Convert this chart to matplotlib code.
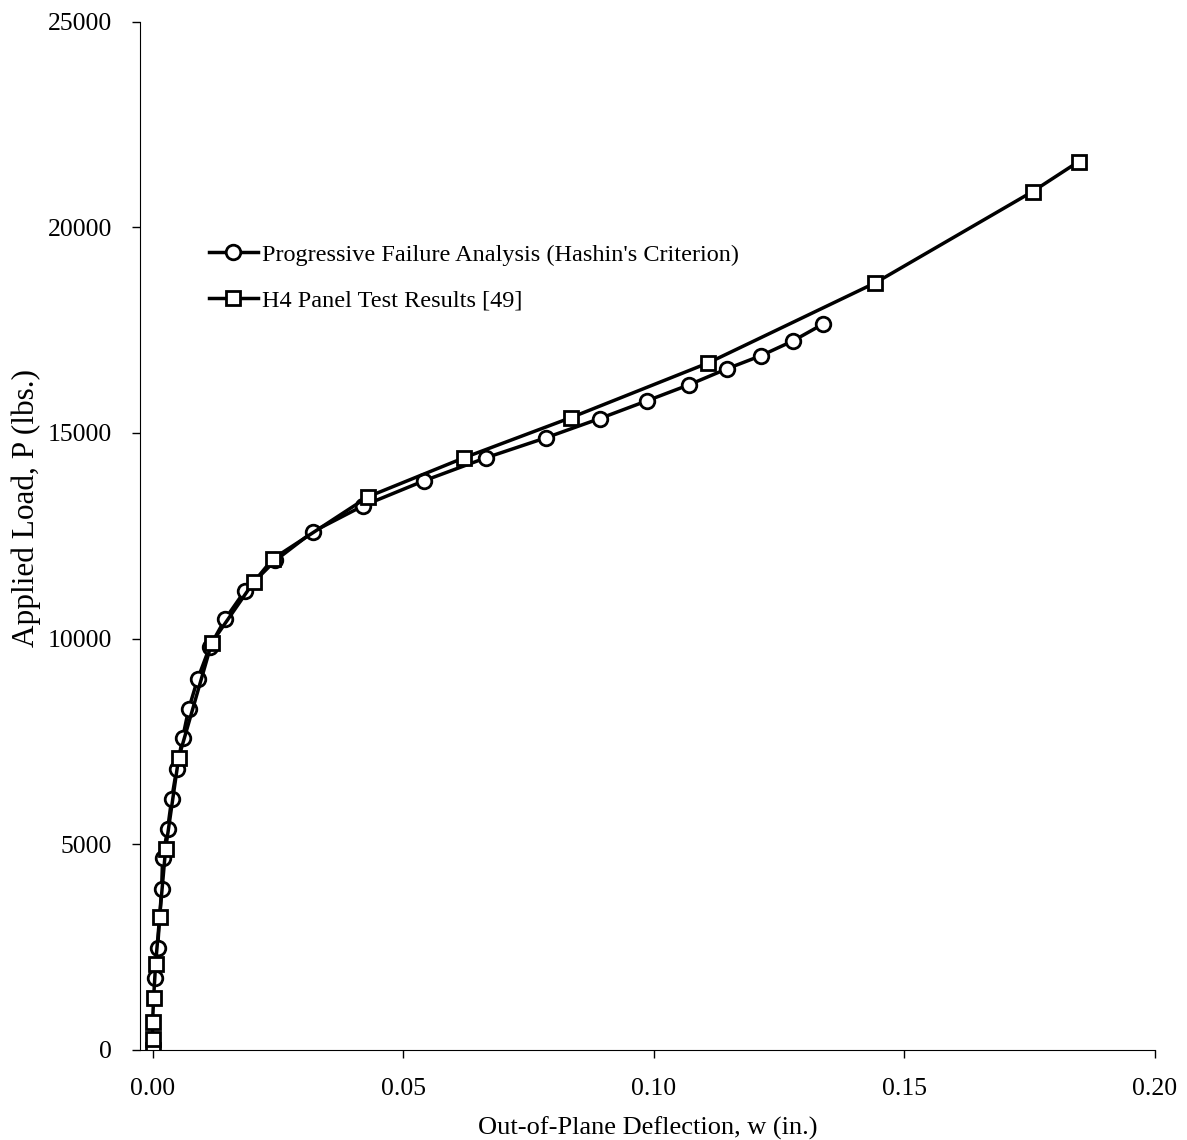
import matplotlib.pyplot as plt

plt.rcParams['font.family'] = ['Liberation Serif', 'DejaVu Serif']

# Progressive failure analysis (circles)
analysis_w = [0.0004, 0.0010, 0.0018, 0.0020, 0.0030, 0.0038, 0.0048, 0.0060,
              0.0072, 0.0090, 0.0114, 0.0145, 0.0184, 0.0245, 0.0320, 0.0420,
              0.0542, 0.0666, 0.0784, 0.0892, 0.0986, 0.1070, 0.1146, 0.1214,
              0.1278, 0.1338]
analysis_p = [1750, 2480, 3920, 4670, 5370, 6100, 6830, 7590,
              8290, 9020, 9800, 10480, 11160, 11900, 12600, 13230,
              13840, 14400, 14880, 15350, 15780, 16170, 16560, 16880,
              17240, 17650]

# H4 panel test results (squares)
test_w = [0.0000, 0.0000, 0.0000, 0.0002, 0.0006, 0.0014, 0.0026, 0.0052,
          0.0118, 0.0202, 0.0240, 0.0430, 0.0622, 0.0834, 0.1108, 0.1442,
          0.1756, 0.1848]
test_p = [0, 270, 680, 1260, 2090, 3230, 4890, 7100,
          9900, 11380, 11940, 13450, 14400, 15370, 16700, 18650,
          20870, 21600]

fig = plt.figure(figsize=(11.87, 11.40), dpi=100)
ax = fig.add_axes([0.118, 0.079, 0.855, 0.902])

ax.plot(analysis_w, analysis_p, color='black', lw=2.5, marker='o', ms=10.5,
        mfc='white', mec='black', mew=2,
        label="Progressive Failure Analysis (Hashin's Criterion)")
ax.plot(test_w, test_p, color='black', lw=2.5, marker='s', ms=10.5,
        mfc='white', mec='black', mew=2,
        label="H4 Panel Test Results [49]")

ax.set_xlim(-0.0025, 0.2)
ax.set_ylim(0, 25000)
ax.set_xticks([0.0, 0.05, 0.10, 0.15, 0.20])
ax.set_xticklabels(['0.00', '0.05', '0.10', '0.15', '0.20'])
ax.set_yticks([0, 5000, 10000, 15000, 20000, 25000])

ax.spines['top'].set_visible(False)
ax.spines['right'].set_visible(False)
ax.tick_params(direction='out', length=6, width=1, labelsize=18.5)
ax.tick_params(axis='x', pad=14)
ax.tick_params(axis='y', pad=14)

ax.set_xlabel('Out-of-Plane Deflection, w (in.)', fontsize=19, labelpad=12)
ax.set_ylabel('Applied Load, P (lbs.)', fontsize=22.5)
ax.yaxis.set_label_coords(-0.098, 0.527)

ax.legend(loc='upper left', bbox_to_anchor=(0.176, 0.786),
          bbox_transform=fig.transFigure, frameon=False, fontsize=17.5,
          handlelength=2.0, handletextpad=0.2, labelspacing=0.95,
          borderpad=0, borderaxespad=0)

fig.savefig('out.png', dpi=100)
